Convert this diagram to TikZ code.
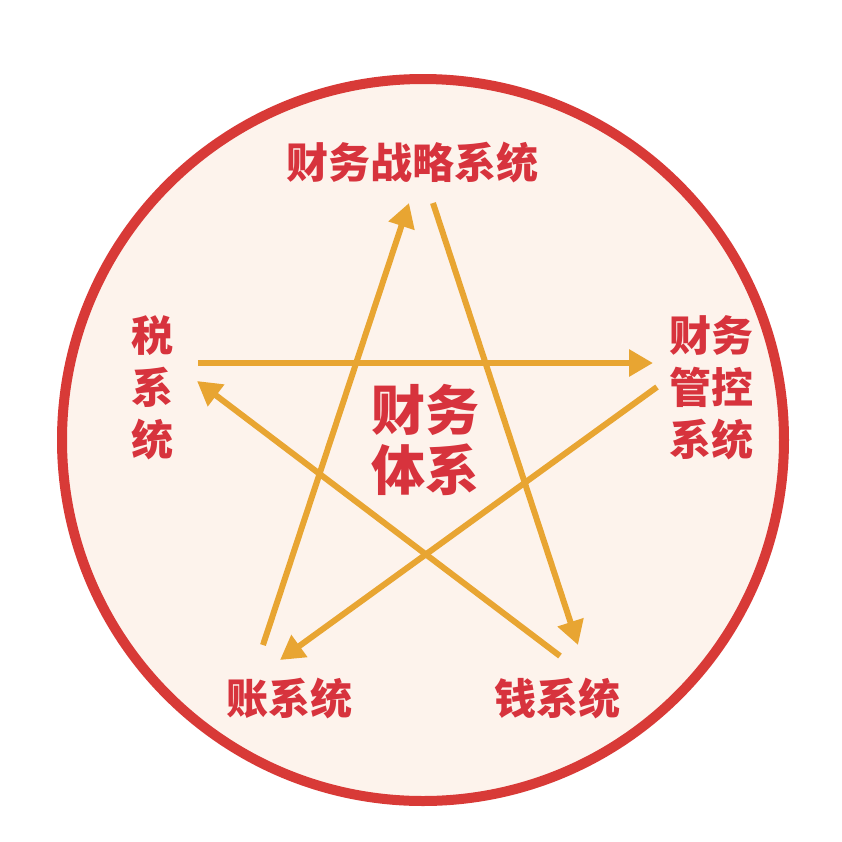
\documentclass[tikz,border=0pt]{standalone}
\usepackage{fontspec}
\newfontfamily\cjk{Noto Sans CJK SC}
\usepackage{tikz}
\usetikzlibrary{arrows.meta}

\definecolor{ringred}{HTML}{D83A37}
\definecolor{txtred}{HTML}{D7333D}
\definecolor{cream}{HTML}{FDF3EC}
\definecolor{gold}{HTML}{E8A532}

\tikzset{
  lbl/.style={text=txtred,inner sep=0pt,align=center,font=\cjk\bfseries\fontsize{21}{26}\selectfont},
  corelbl/.style={lbl,font=\cjk\bfseries\fontsize{27}{30}\selectfont},
  arr/.style={draw=gold,line width=3pt,-{Triangle[length=12pt,width=13pt]}}
}

\begin{document}
\begin{tikzpicture}[x=0.5pt,y=-0.5pt]
\useasboundingbox (0,0) rectangle (842,842);
\draw[ringred,fill=cream,line width=5pt] (423,440) circle [radius=361];

\node[lbl] (strat) at (412,162) {财务战略系统};
\node[lbl] (tax) at (152,388) {税\\系\\统};
\node[lbl] (ctrl) at (711,388) {财务\\管控\\系统};
\node[lbl] (acct) at (289,698) {账系统};
\node[lbl] (cash) at (557,698) {钱系统};
\node[corelbl] (core) at (425,440) {财务\\体系};

% ends of the star
\coordinate (s1) at (409,203); \coordinate (s2) at (433,203);
\coordinate (t1) at (198,363); \coordinate (t2) at (197,381);
\coordinate (c1) at (653,363); \coordinate (c2) at (657,387);
\coordinate (a1) at (263,645); \coordinate (a2) at (280,660);
\coordinate (m1) at (578,645); \coordinate (m2) at (560,656);

\draw[arr] (a1) -- (s1);
\draw[arr] (s2) -- (m1);
\draw[arr] (t1) -- (c1);
\draw[arr] (c2) -- (a2);
\draw[arr] (m2) -- (t2);

\end{tikzpicture}
\end{document}
